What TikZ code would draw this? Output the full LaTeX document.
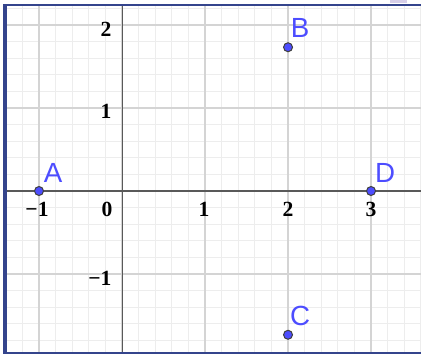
\documentclass[tikz,border=0pt]{standalone}
\usepackage{fontspec}
\setmainfont{Liberation Serif}
\newfontfamily\ptfont{Liberation Sans}
\usetikzlibrary{calc}
\definecolor{frameblue}{RGB}{52,68,140}
\definecolor{ptblue}{RGB}{77,77,255}
\definecolor{tabpurple}{RGB}{214,206,232}
\tikzset{
	minorgrid/.style={draw=black!7, line width=0.3pt},
	majorgrid/.style={draw=black!17, line width=0.4pt},
	axisline/.style={draw=black!65, line width=0.35pt},
	ticklabel/.style={inner sep=0pt, font=\fontsize{7.4}{8}\selectfont\bfseries},
	pt/.style={fill=ptblue, draw=black!75, line width=0.35pt},
	ptlabel/.style={inner sep=0pt, text=ptblue, font=\ptfont\fontsize{9.5}{10}\selectfont}
}
\begin{document}
\begin{tikzpicture}
		\useasboundingbox (-1.470,-1.964) rectangle (3.602,2.301);
		% grid and axes
		\begin{scope}
		\clip (-1.386,-1.934) rectangle (3.602,2.225);
		\draw [minorgrid] (-1.6,-2.2) grid[step=0.2] (3.8,2.4);
		\draw [majorgrid] (-2,-2) grid[step=1] (4,3);
		\draw [axisline] (-1.5,0) -- (3.7,0);
		\draw [axisline] (0,-2.1) -- (0,2.4);
		\end{scope}
		% frame
		\fill [frameblue] (-1.428,-1.964) rectangle (-1.386,2.253);
		\fill [frameblue] (-1.428,2.225) rectangle (3.602,2.253);
		\fill [frameblue] (-1.428,-1.964) rectangle (3.602,-1.934);
		\fill [tabpurple] (3.229,2.265) rectangle (3.434,2.301);
		% tick labels
		\node [ticklabel, anchor=east] (y2) at (-0.12,1.952) {2};
		\node [ticklabel, anchor=east] (y1) at (-0.12,0.964) {1};
		\node [ticklabel, anchor=east] (ym1) at (-0.12,-1.048) {−1};
		\node [ticklabel] (o) at (-0.18,-0.217) {0};
		\node [ticklabel] (xm1) at (-1.024,-0.217) {−1};
		\node [ticklabel] (x1) at (0.988,-0.217) {1};
		\node [ticklabel] (x2) at (2,-0.217) {2};
		\node [ticklabel] (x3) at (3,-0.217) {3};
		% points
		\coordinate (A) at (-1,0);
		\coordinate (B) at (2,1.732);
		\coordinate (C) at (2,-1.732);
		\coordinate (D) at (3,0);
		\filldraw [pt] (A) circle (0.054);
		\filldraw [pt] (B) circle (0.054);
		\filldraw [pt] (C) circle (0.054);
		\filldraw [pt] (D) circle (0.054);
		\node [ptlabel] (labA) at ($(A)+(0.169,0.217)$) {A};
		\node [ptlabel] (labB) at ($(B)+(0.145,0.232)$) {B};
		\node [ptlabel] (labC) at ($(C)+(0.145,0.226)$) {C};
		\node [ptlabel] (labD) at ($(D)+(0.169,0.217)$) {D};
\end{tikzpicture}
\end{document}
